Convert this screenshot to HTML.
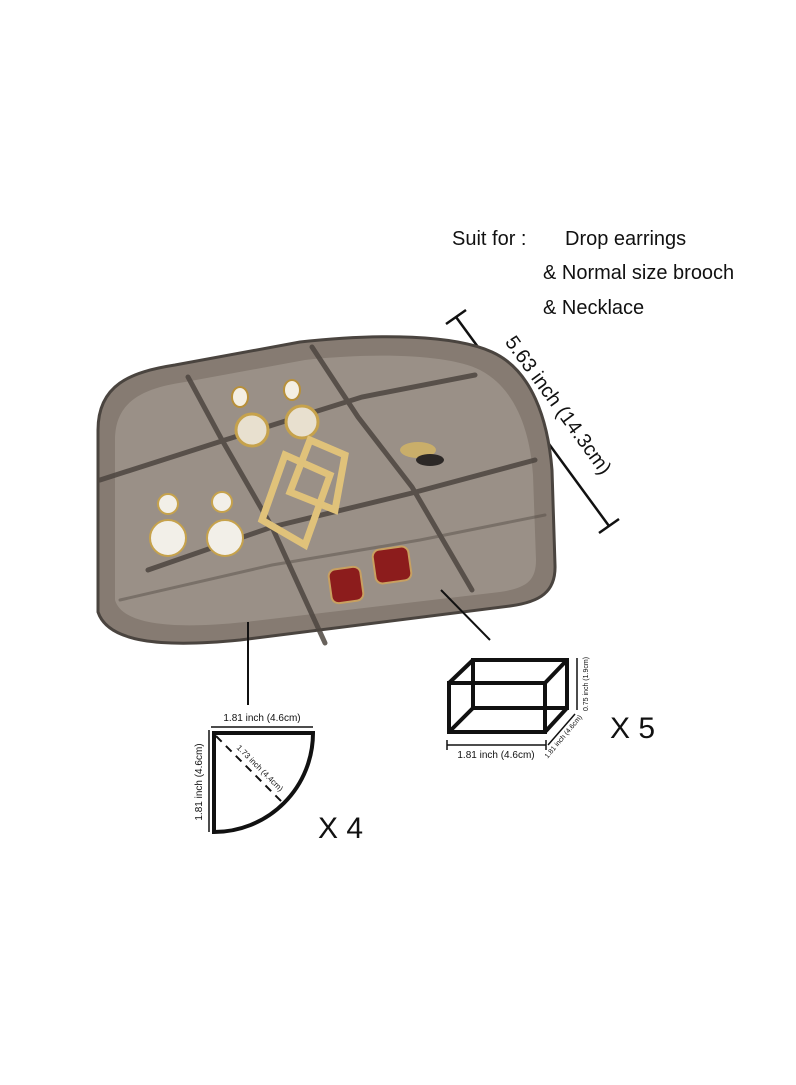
<!DOCTYPE html>
<html><head><meta charset="utf-8"><style>
html,body{margin:0;padding:0;background:#fff}
svg{display:block}
text{font-family:"Liberation Sans",sans-serif}
</style></head><body>
<svg width="796" height="1085" viewBox="0 0 796 1085" xmlns="http://www.w3.org/2000/svg">
<rect width="796" height="1085" fill="#fff"/>
<g font-size="20" fill="#111">
<text x="452" y="245">Suit for :</text>
<text x="565" y="245">Drop earrings</text>
<text x="543" y="279">&amp; Normal size brooch</text>
<text x="543" y="314">&amp; Necklace</text>
</g>
<g stroke="#111" stroke-width="2.5">
<line x1="456" y1="317" x2="609" y2="526"/>
<line x1="446" y1="324" x2="466" y2="310"/>
<line x1="599" y1="533" x2="619" y2="519"/>
</g>
<text x="0" y="0" font-size="20" fill="#111" text-anchor="middle" transform="translate(553,409) rotate(54)">5.63 inch (14.3cm)</text>
<path d="M98,430 C98,385 130,372 175,365 L300,342 C380,333 455,335 492,352 C532,370 548,420 552,470 L555,565 C556,592 540,602 510,606 L240,640 C160,648 108,642 98,612 Z" fill="#867b72" stroke="#4a443f" stroke-width="3"/>
<path d="M115,440 C115,400 145,388 185,382 L305,360 C380,352 450,355 480,370 C515,388 530,430 533,475 L536,560 C536,582 525,588 500,592 L245,622 C170,630 122,624 115,600 Z" fill="#a39a90" opacity="0.7"/>
<g stroke="#4d4640" stroke-width="5" fill="none" opacity="0.85" stroke-linecap="round">
<polyline points="188,377 222,440 272,527 325,643"/>
<polyline points="312,347 358,417 412,487 472,590"/>
<polyline points="100,480 225,440 362,397 475,375"/>
<polyline points="148,570 272,527 412,493 535,460"/>
<polyline points="120,600 272,565 420,540 545,515" stroke-width="3" opacity="0.5"/>
</g>
<g>
<circle cx="252" cy="430" r="16" fill="#e8e0cf" stroke="#c6a24c" stroke-width="3"/>
<circle cx="302" cy="422" r="16" fill="#e8e0cf" stroke="#c6a24c" stroke-width="3"/>
<ellipse cx="240" cy="397" rx="8" ry="10" fill="#f4efe3" stroke="#b8903a" stroke-width="2"/>
<ellipse cx="292" cy="390" rx="8" ry="10" fill="#f4efe3" stroke="#b8903a" stroke-width="2"/>
<circle cx="168" cy="504" r="10" fill="#f2efe8" stroke="#c6a24c" stroke-width="2"/>
<circle cx="168" cy="538" r="18" fill="#f2efe8" stroke="#c6a24c" stroke-width="2"/>
<circle cx="222" cy="502" r="10" fill="#f2efe8" stroke="#c6a24c" stroke-width="2"/>
<circle cx="225" cy="538" r="18" fill="#f2efe8" stroke="#c6a24c" stroke-width="2"/>
<g fill="none" stroke="#e0c27a" stroke-width="7">
<polygon points="310,440 345,455 335,510 290,492"/>
<polygon points="285,455 330,475 305,545 262,520"/>
</g>
<rect x="330" y="568" width="32" height="34" rx="7" fill="#8c1c1c" stroke="#c8a060" stroke-width="2" transform="rotate(-8 346 585)"/>
<rect x="374" y="548" width="36" height="34" rx="7" fill="#8c1c1c" stroke="#c8a060" stroke-width="2" transform="rotate(-8 392 565)"/>
<ellipse cx="418" cy="450" rx="18" ry="8" fill="#c9ae6a"/>
<ellipse cx="430" cy="460" rx="14" ry="6" fill="#2c2826"/>
</g>
<g stroke="#111" stroke-width="2">
<line x1="248" y1="622" x2="248" y2="705"/>
<line x1="441" y1="590" x2="490" y2="640"/>
</g>
<g stroke="#111" fill="none">
<path d="M214,733 L313,733 A99,99 0 0 1 214,832 Z" stroke-width="4"/>
<line x1="211" y1="727" x2="313" y2="727" stroke-width="1.5"/>
<line x1="209" y1="730" x2="209" y2="832" stroke-width="1.5"/>
<line x1="216" y1="736" x2="285" y2="805" stroke-width="2" stroke-dasharray="8,6"/>
</g>
<text x="262" y="721" font-size="10" text-anchor="middle" fill="#111">1.81 inch (4.6cm)</text>
<text x="202" y="782" font-size="10" text-anchor="middle" fill="#111" transform="rotate(-90 202 782)">1.81 inch (4.6cm)</text>
<text x="258" y="770" font-size="8" text-anchor="middle" fill="#111" transform="rotate(45 258 770)">1.73 inch (4.4cm)</text>
<text x="318" y="838" font-size="30" fill="#111">X 4</text>
<g stroke="#111" stroke-width="4" fill="none">
<rect x="449" y="683" width="96" height="49"/>
<rect x="473" y="660" width="94" height="48"/>
<line x1="449" y1="683" x2="473" y2="660"/>
<line x1="545" y1="683" x2="567" y2="660"/>
<line x1="449" y1="732" x2="473" y2="708"/>
<line x1="545" y1="732" x2="567" y2="708"/>
</g>
<g stroke="#111" stroke-width="1.5">
<line x1="447" y1="745" x2="546" y2="745"/>
<line x1="447" y1="740" x2="447" y2="750"/>
<line x1="546" y1="740" x2="546" y2="750"/>
<line x1="577" y1="658" x2="577" y2="710"/>
<line x1="548" y1="745" x2="575" y2="714"/>
</g>
<text x="496" y="758" font-size="10" text-anchor="middle" fill="#111">1.81 inch (4.6cm)</text>
<text x="588" y="684" font-size="7" text-anchor="middle" fill="#111" transform="rotate(-90 588 684)">0.75 inch (1.9cm)</text>
<text x="565" y="738" font-size="7" text-anchor="middle" fill="#111" transform="rotate(-50 565 738)">1.81 inch (4.6cm)</text>
<text x="610" y="738" font-size="30" fill="#111">X 5</text>
</svg>
</body></html>
